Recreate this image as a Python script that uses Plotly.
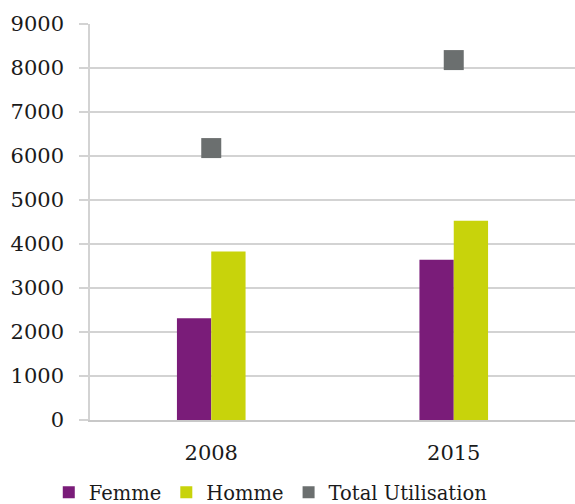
import plotly.graph_objects as go

years = ["2008", "2015"]
femme = [2310, 3640]
homme = [3830, 4530]
total = [6180, 8180]
y_ticks = [0, 1000, 2000, 3000, 4000, 5000, 6000, 7000, 8000, 9000]

PURPLE = "#7a1c79"
GREEN = "#c8d30b"
GRAY = "#6b6f6f"
FONT = "DejaVu Serif"

fig = go.Figure()
fig.add_trace(go.Bar(name="Femme", x=years, y=femme, marker=dict(color=PURPLE, line=dict(width=0))))
fig.add_trace(go.Bar(name="Homme", x=years, y=homme, marker=dict(color=GREEN, line=dict(width=0))))
fig.add_trace(go.Scatter(name="Total Utilisation", x=years, y=total, mode="markers",
                         marker=dict(symbol="square", size=20, color=GRAY), showlegend=False))
fig.add_trace(go.Scatter(name="Total Utilisation", x=[None], y=[None], mode="markers",
                         marker=dict(symbol="square", size=12, color=GRAY)))

fig.update_layout(
    width=575, height=504,
    margin=dict(l=90, r=0, t=24, b=84, autoexpand=False),
    paper_bgcolor="white", plot_bgcolor="white",
    barmode="group", bargap=0.717, bargroupgap=0,
    font=dict(family=FONT, size=21, color="#1a1a1a"),
    showlegend=True,
    legend=dict(orientation="h", x=-0.085, xanchor="left", y=-0.183, yanchor="middle",
                font=dict(family=FONT, size=19.5, color="#1a1a1a"), itemwidth=30,
                bgcolor="rgba(0,0,0,0)"),
)
fig.update_yaxes(range=[0, 9000], tickvals=y_ticks, showgrid=True, gridcolor="#d3d3d3", gridwidth=1.5,
                 showline=True, linecolor="#d3d3d3", linewidth=1.5,
                 ticks="outside", ticklen=9, tickcolor="#d3d3d3", tickwidth=1.5,
                 ticklabelstandoff=11, zeroline=False, automargin=False)
fig.update_xaxes(showline=True, linecolor="#c8c8c8", linewidth=1.5, ticks="", showgrid=False,
                 ticklabelstandoff=13, automargin=False)

fig.write_html("out.html", config={"displayModeBar": False},
               post_script="document.body.style.margin='0';document.body.style.overflow='hidden';")
